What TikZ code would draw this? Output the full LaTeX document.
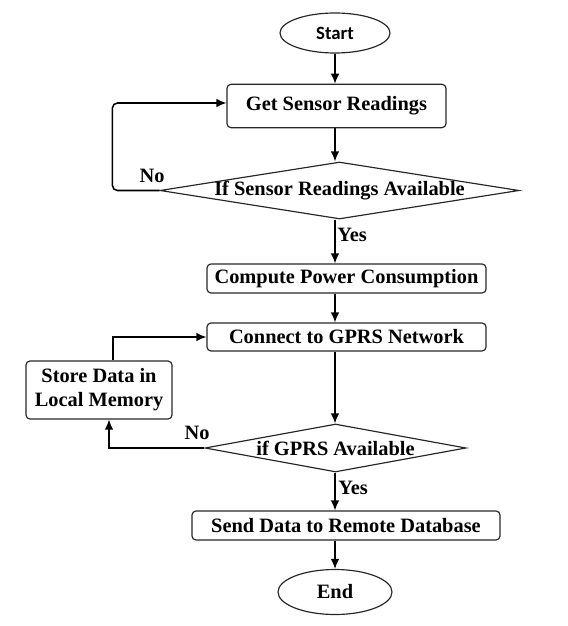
\documentclass[tikz,border=0pt]{standalone}
\usepackage{fontspec}
\setmainfont{Liberation Serif}
\newfontfamily\calfont{Carlito}
\usetikzlibrary{shapes.geometric,arrows.meta}

\begin{document}
\begin{tikzpicture}[x=0.03cm,y=-0.03cm,
		every node/.style={font=\fontsize{17.4pt}{20.5pt}\selectfont\bfseries},
		procbox/.style={draw=black!85, line width=1pt, rounded corners=0.12cm, inner sep=0pt, align=center},
		termbox/.style={draw=black!85, line width=1pt, ellipse, inner sep=0pt},
		testbox/.style={draw=black!85, line width=1pt, diamond, inner sep=0pt},
		flow/.style={line width=1.3pt, -{Latex[length=0.3cm,width=0.26cm]}}]
		
		\useasboundingbox (0,0) rectangle (567,626);
		\coordinate (axis) at (335,0);
		
		\node[termbox, minimum width=3.3cm, minimum height=1.2cm, font=\calfont\fontsize{16pt}{19pt}\selectfont\bfseries] (start) at (335,33) {Start};
		\node[procbox, minimum width=6.57cm, minimum height=1.3cm] (get) at (336.5,106) {Get Sensor Readings};
		\node[testbox, minimum width=10.77cm, minimum height=1.71cm] (chk1) at (339.5,190.5) {\makebox[0pt]{If Sensor Readings Available}};
		\node[procbox, minimum width=8.37cm, minimum height=0.87cm] (comp) at (346.5,278.5) {Compute Power Consumption};
		\node[procbox, minimum width=8.37cm, minimum height=0.84cm] (conn) at (346.5,337) {Connect to GPRS Network};
		\node[procbox, minimum width=4.38cm, minimum height=1.74cm] (store) at (99,390) {Store Data in\\Local Memory};
		\node[testbox, minimum width=7.83cm, minimum height=1.44cm] (chk2) at (335.5,448) {\makebox[0pt]{if GPRS Available}};
		\node[procbox, minimum width=9.24cm, minimum height=0.87cm] (send) at (346,525.5) {Send Data to Remote Database};
		\node[termbox, minimum width=3.42cm, minimum height=1.35cm] (stop) at (335,592) {End};
		
		\node (no1) at (152,176) {No};
		\node (yes1) at (352,235) {Yes};
		\node (no2) at (197,433) {No};
		\node (yes2) at (353,488) {Yes};
		
		\draw[flow] (start.south -| axis) -- (get.north -| axis);
		\draw[flow] (get.south -| axis) -- (chk1.north -| axis);
		\draw[flow] (chk1.south -| axis) -- (comp.north -| axis);
		\draw[flow] (comp.south -| axis) -- (conn.north -| axis);
		\draw[flow] (conn.south -| axis) -- (chk2.north -| axis);
		\draw[flow] (chk2.south -| axis) -- (send.north -| axis);
		\draw[flow] (send.south -| axis) -- (stop.north -| axis);
		
		\draw[flow, rounded corners=0.15cm] (chk1.west) -- ++(-47,0) |- ([yshift=0.09cm]get.west);
		\draw[flow] (chk2.west) -| ([xshift=0.3cm]store.south);
		\draw[flow] ([xshift=0.42cm]store.north) |- (conn.west);
		
	\end{tikzpicture}
\end{document}
